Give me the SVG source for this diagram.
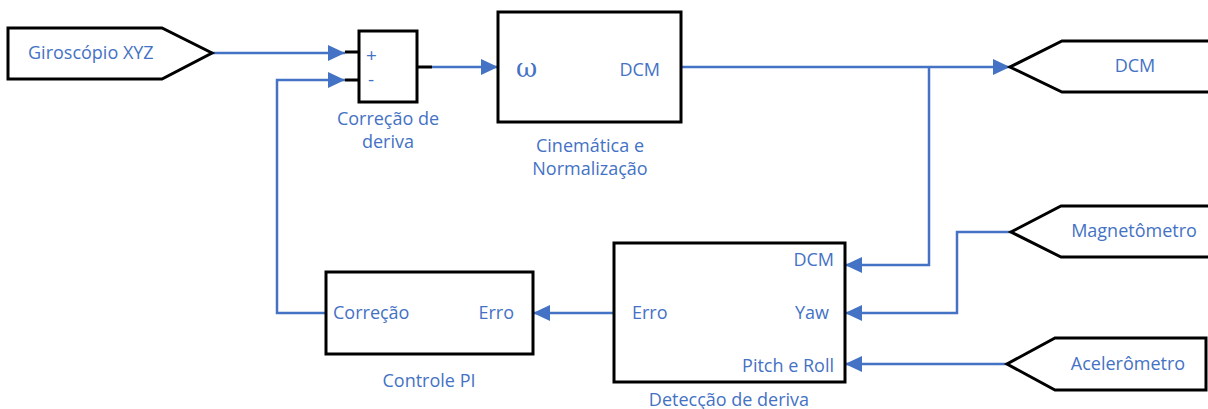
<svg xmlns="http://www.w3.org/2000/svg" width="1208" height="409" viewBox="0 0 1208 409">
<style>
.box{fill:#fff;stroke:#000;stroke-width:3}
.shape{fill:#fff;stroke:#000;stroke-width:3;stroke-linejoin:miter}
.wire{fill:none;stroke:#4472C4;stroke-width:2.5}
.stub{fill:none;stroke:#000;stroke-width:3}
text{font-family:"Open Sans","Liberation Sans",sans-serif;font-size:18px;fill:#4472C4}
.omega{font-family:"DejaVu Serif","Liberation Serif",serif;font-size:26px}
.sign{font-size:19px}
</style>
<defs>
<marker id="arr" markerUnits="userSpaceOnUse" markerWidth="18" markerHeight="16" refX="17" refY="8" orient="auto">
<path d="M0,0 L17,8 L0,16 Z" fill="#4472C4"/>
</marker>
</defs>
<rect width="1208" height="409" fill="#fff"/>
<g id="connectors">
<path class="wire" d="M212,53 H345" marker-end="url(#arr)"/>
<path class="wire" d="M326,313 H277 V80 H345" marker-end="url(#arr)"/>
<path class="wire" d="M432,67 H498" marker-end="url(#arr)"/>
<path class="wire" d="M681,67 H1010" marker-end="url(#arr)"/>
<path class="wire" d="M929,67 V265 H845" marker-end="url(#arr)"/>
<path class="wire" d="M1011,232 H957 V313 H845" marker-end="url(#arr)"/>
<path class="wire" d="M1007,364 H845" marker-end="url(#arr)"/>
<path class="wire" d="M613,313 H533" marker-end="url(#arr)"/>
<path class="stub" d="M345,52 H359 M345,80 H359 M417,67 H432"/>
</g>
<g id="giroscopio">
<path class="shape" d="M8,28 H162 L212,53 L162,79 H8 Z"/>
<text x="28" y="59">Giroscópio XYZ</text>
</g>
<g id="correcao">
<rect class="box" x="359" y="31" width="58" height="71"/>
<text class="sign" x="366" y="62">+</text>
<text class="sign" x="368" y="86">-</text>
<text x="388" y="125" text-anchor="middle">Correção de</text>
<text x="388" y="148" text-anchor="middle">deriva</text>
</g>
<g id="cinematica">
<rect class="box" x="498" y="12" width="183" height="110"/>
<text class="omega" x="516" y="77">ω</text>
<text x="660" y="76" text-anchor="end">DCM</text>
<text x="590" y="152" text-anchor="middle">Cinemática e</text>
<text x="590" y="175" text-anchor="middle">Normalização</text>
</g>
<g id="dcm-out">
<path class="shape" d="M1215,41 H1062 L1010,67 L1062,92 H1215"/>
<text x="1135" y="72" text-anchor="middle">DCM</text>
</g>
<g id="magnetometro">
<path class="shape" d="M1215,206 H1061 L1011,232 L1061,257 H1215"/>
<text x="1134" y="237" text-anchor="middle">Magnetômetro</text>
</g>
<g id="acelerometro">
<path class="shape" d="M1206,338 H1055 L1007,364 L1055,390 H1206 Z"/>
<text x="1128" y="370" text-anchor="middle">Acelerômetro</text>
</g>
<g id="deteccao">
<rect class="box" x="614" y="243" width="231" height="139"/>
<text x="834" y="266" text-anchor="end">DCM</text>
<text x="829" y="319" text-anchor="end">Yaw</text>
<text x="834" y="372" text-anchor="end">Pitch e Roll</text>
<text x="632" y="319">Erro</text>
<text x="729" y="406" text-anchor="middle">Detecção de deriva</text>
</g>
<g id="controle-pi">
<rect class="box" x="326" y="272" width="207" height="82"/>
<text x="333" y="319">Correção</text>
<text x="514" y="319" text-anchor="end">Erro</text>
<text x="429" y="387" text-anchor="middle">Controle PI</text>
</g>
</svg>
